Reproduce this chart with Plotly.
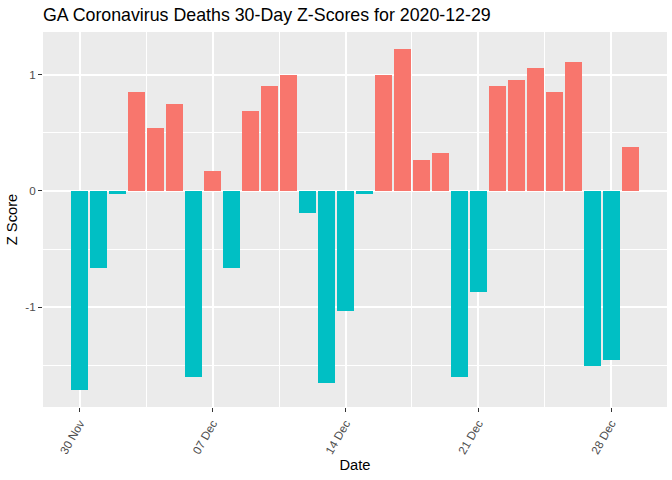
import plotly.graph_objects as go
import pandas as pd

dates = pd.date_range("2020-11-30", "2020-12-29", freq="D").strftime("%Y-%m-%d").tolist()
z_scores = [-1.71, -0.66, -0.03, 0.85, 0.54, 0.75, -1.60, 0.17, -0.66, 0.69,
            0.90, 1.00, -0.19, -1.65, -1.03, -0.03, 1.00, 1.22, 0.27, 0.33,
            -1.60, -0.87, 0.90, 0.95, 1.06, 0.85, 1.11, -1.50, -1.45, 0.38]
y_ticks = [-1, 0, 1]

DAY = 86400000
colors = ["#F8766D" if v > 0 else "#00BFC4" for v in z_scores]

fig = go.Figure(go.Bar(x=dates, y=z_scores, marker=dict(color=colors, line=dict(width=0)),
                       width=0.9 * DAY, showlegend=False))

ymin, ymax = min(z_scores), max(z_scores)
pad = (ymax - ymin) * 0.05

fig.update_layout(
    width=672, height=480,
    margin=dict(l=43, r=5, t=32, b=73),
    paper_bgcolor="white", plot_bgcolor="#EBEBEB",
    font=dict(family="Liberation Sans, Arial, sans-serif"),
    title=dict(text="GA Coronavirus Deaths 30-Day Z-Scores for 2020-12-29",
               x=43 / 672, xref="container", xanchor="left",
               y=1 - 15 / 480, yref="container", yanchor="middle",
               font=dict(size=17.8, color="black")),
    bargap=0,
)
fig.update_xaxes(
    type="date", automargin=False,
    range=["2020-11-28 01:19", "2020-12-30 22:41"],
    tick0="2020-11-30", dtick=7 * DAY, tickformat="%d %b",
    tickangle=-60, ticks="outside", ticklen=4, tickcolor="#333333", tickwidth=1,
    tickfont=dict(size=11.7, color="#4D4D4D"),
    showgrid=True, gridcolor="white", gridwidth=1.9,
    minor=dict(dtick=3.5 * DAY, tick0="2020-11-30", showgrid=True, gridcolor="white", gridwidth=0.95, ticks=""),
    zeroline=False, showline=False,
    title=dict(text="Date", font=dict(size=14.7, color="black"), standoff=4),
)
fig.update_yaxes(
    automargin=False,
    range=[ymin - pad, ymax + pad],
    tickvals=y_ticks, ticktext=[str(v) for v in y_ticks],
    ticks="outside", ticklen=4, tickcolor="#333333", tickwidth=1,
    tickfont=dict(size=11.7, color="#4D4D4D"),
    showgrid=True, gridcolor="white", gridwidth=1.9,
    minor=dict(tickvals=[-1.5, -0.5, 0.5], showgrid=True, gridcolor="white", gridwidth=0.95, ticks=""),
    zeroline=False, showline=False,
    title=dict(text="Z Score", font=dict(size=14.7, color="black"), standoff=4),
)

fig.write_html("out.html", config={"displayModeBar": False},
               post_script="document.body.style.margin='0';document.body.style.overflow='hidden';")
